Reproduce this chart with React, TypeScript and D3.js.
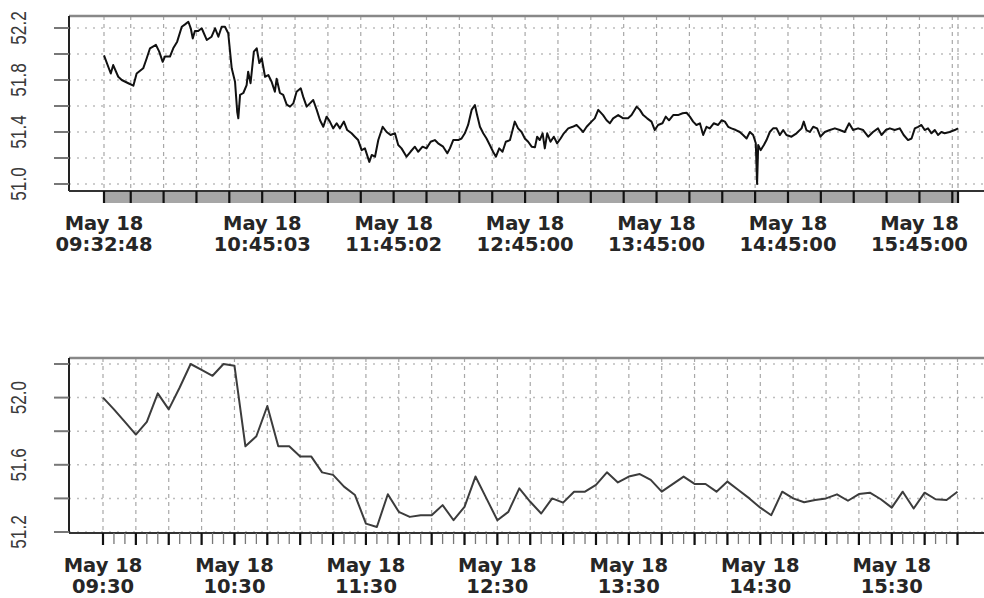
import React from 'react';
import * as d3 from 'd3';

// tick-level trades: minutes after 09:30 and price
const tradeMinutes = [
  2.8, 5.9, 7.0, 9.3, 10.9, 13.9, 16.2, 17.7, 20.7, 22.3, 23.8, 26.5, 28.0, 29.6, 30.6, 32.9, 34.4, 36.2, 38.3, 39.8,
  41.3, 42.4, 43.3, 44.3, 45.8, 47.4, 49.7, 51.9, 53.5, 55.0, 56.5, 58.0, 59.5, 61.1, 62.6, 63.6, 64.1, 64.9, 66.4, 67.9,
  68.6, 69.7, 71.2, 72.5, 73.7, 74.8, 76.3, 77.8, 79.3, 80.8, 81.6, 83.1, 84.6, 86.2, 87.7, 89.2, 90.7, 92.6, 93.7, 95.3,
  96.8, 98.3, 99.9, 101.4, 102.9, 104.4, 105.9, 107.4, 109.0, 110.5, 112.3, 113.8, 115.8, 117.3, 118.8, 120.4, 121.9, 123.9, 125.0, 126.5,
  128.0, 130.0, 131.8, 133.6, 135.6, 137.1, 138.6, 140.9, 142.7, 144.7, 146.2, 148.2, 150.0, 151.9, 153.8, 155.3, 157.6, 159.5, 160.7, 162.2,
  164.5, 166.0, 167.5, 169.0, 170.6, 172.1, 173.1, 174.4, 175.9, 177.4, 178.9, 180.4, 181.7, 183.2, 184.7, 186.2, 188.1, 189.3, 190.3, 191.8,
  193.4, 194.9, 196.4, 198.0, 199.5, 200.5, 201.7, 203.0, 204.0, 205.1, 206.6, 208.1, 209.6, 211.2, 212.7, 214.7, 216.7, 218.5, 220.0, 221.5,
  223.1, 225.3, 226.8, 228.4, 230.6, 232.2, 233.7, 235.2, 237.5, 239.8, 242.0, 243.6, 245.9, 247.4, 248.9, 250.7, 252.7, 254.2, 255.7, 257.7,
  259.2, 260.7, 262.6, 264.8, 266.9, 268.7, 270.2, 271.7, 273.2, 274.8, 276.3, 277.8, 279.3, 281.1, 283.1, 284.7, 286.2, 287.7, 289.2, 291.2,
  293.0, 294.5, 296.1, 297.6, 299.1, 300.3, 300.9, 301.4, 302.5, 304.0, 305.2, 306.7, 308.2, 309.8, 311.3, 312.8, 314.3, 316.6, 318.9, 321.2,
  322.2, 323.4, 325.0, 326.5, 328.3, 329.8, 331.8, 334.1, 336.4, 338.6, 340.9, 342.9, 344.7, 347.0, 349.3, 351.6, 353.8, 356.1, 357.7, 359.6,
  361.5, 363.7, 366.0, 367.8, 369.8, 371.4, 372.9, 374.4, 375.9, 377.4, 378.9, 380.5, 382.0, 383.5, 385.0, 386.5, 388.8, 391.1, 392.6,
];
const tradePrices = [
  51.99, 51.85, 51.915, 51.825, 51.8, 51.775, 51.756, 51.85, 51.89, 51.967, 52.044, 52.07, 52.018, 51.94, 51.98, 51.98, 52.044, 52.095, 52.21, 52.228,
  52.248, 52.198, 52.12, 52.177, 52.177, 52.198, 52.108, 52.133, 52.198, 52.133, 52.21, 52.21, 52.16, 51.89, 51.787, 51.556, 51.505, 51.685, 51.7, 51.76,
  51.864, 51.775, 52.018, 52.044, 51.93, 51.967, 51.825, 51.838, 51.787, 51.71, 51.81, 51.7, 51.685, 51.61, 51.595, 51.62, 51.71, 51.736, 51.672, 51.595,
  51.62, 51.646, 51.57, 51.49, 51.44, 51.518, 51.48, 51.428, 51.467, 51.428, 51.48, 51.415, 51.39, 51.364, 51.338, 51.26, 51.274, 51.17, 51.223, 51.21,
  51.338, 51.44, 51.4, 51.377, 51.39, 51.3, 51.274, 51.21, 51.248, 51.287, 51.248, 51.287, 51.274, 51.325, 51.338, 51.313, 51.287, 51.236, 51.274, 51.338,
  51.338, 51.35, 51.39, 51.454, 51.57, 51.608, 51.53, 51.44, 51.39, 51.35, 51.3, 51.248, 51.21, 51.274, 51.248, 51.325, 51.338, 51.415, 51.48, 51.428,
  51.4, 51.35, 51.325, 51.287, 51.282, 51.364, 51.338, 51.39, 51.274, 51.39, 51.325, 51.364, 51.313, 51.35, 51.39, 51.428, 51.44, 51.454, 51.428, 51.4,
  51.44, 51.48, 51.505, 51.57, 51.53, 51.49, 51.467, 51.505, 51.53, 51.505, 51.505, 51.53, 51.595, 51.57, 51.53, 51.505, 51.48, 51.415, 51.454, 51.467,
  51.518, 51.49, 51.53, 51.53, 51.544, 51.548, 51.518, 51.48, 51.454, 51.467, 51.377, 51.44, 51.428, 51.467, 51.454, 51.49, 51.48, 51.44, 51.428, 51.415,
  51.4, 51.377, 51.35, 51.4, 51.377, 51.313, 51.0, 51.3, 51.26, 51.3, 51.338, 51.4, 51.428, 51.428, 51.377, 51.415, 51.377, 51.364, 51.39, 51.428,
  51.48, 51.415, 51.4, 51.44, 51.428, 51.364, 51.4, 51.415, 51.428, 51.415, 51.4, 51.467, 51.415, 51.428, 51.415, 51.364, 51.4, 51.428, 51.377, 51.415,
  51.428, 51.415, 51.428, 51.377, 51.338, 51.35, 51.428, 51.44, 51.454, 51.415, 51.428, 51.39, 51.415, 51.377, 51.4, 51.39, 51.4, 51.415, 51.428,
];

// 5-minute closes from 09:30 to 16:00
const barPrices = [
  52.0, 51.93, 51.855, 51.78, 51.855, 52.025, 51.93, 52.06, 52.2, 52.165, 52.13, 52.2, 52.19,
  51.71, 51.77, 51.95, 51.71, 51.71, 51.65, 51.65, 51.555,
  51.54, 51.47, 51.42, 51.25, 51.23, 51.425, 51.32, 51.29, 51.3, 51.3,
  51.36, 51.27, 51.35, 51.53, 51.4, 51.27, 51.32, 51.46, 51.38, 51.31,
  51.4, 51.375, 51.44, 51.44, 51.48, 51.555, 51.495, 51.53, 51.545, 51.51,
  51.44, 51.485, 51.53, 51.486, 51.486, 51.44, 51.5, 51.45, 51.4, 51.345,
  51.3, 51.44, 51.4, 51.377, 51.39, 51.4, 51.424, 51.386, 51.426, 51.434,
  51.395, 51.345, 51.44, 51.34, 51.434, 51.395, 51.39, 51.44,
];

const dayLabel = 'May 18';
const topTickLabels = ['09:32:48', '10:45:03', '11:45:02', '12:45:00', '13:45:00', '14:45:00', '15:45:00'];
const bottomTickLabels = ['09:30', '10:30', '11:30', '12:30', '13:30', '14:30', '15:30'];
const topYTicks = [51.0, 51.2, 51.4, 51.6, 51.8, 52.0, 52.2];
const topYLabels = [51.0, 51.4, 51.8, 52.2];
const bottomYTicks = [51.2, 51.4, 51.6, 51.8, 52.0, 52.2];
const bottomYLabels = [51.2, 51.6, 52.0];

const open = new Date(2012, 4, 18, 9, 30, 0);
const at = (m: number) => new Date(open.getTime() + m * 60000);
const clock = (s: string) => {
  const [h, m, sec] = s.split(':').map(Number);
  return new Date(2012, 4, 18, h, m, sec || 0);
};

const W = 984;
const H = 598;
const left = 69;
const right = 990;
const fmt = d3.format('.1f');

const gridCol = '#a8a8a8';
const labelFont = 'DejaVu Sans, Verdana, sans-serif';

const App: React.FC = () => {
  const trades = tradeMinutes.map((m, i) => ({ t: at(m), v: tradePrices[i] }));
  const bars = barPrices.map((v, i) => ({ t: at(i * 5), v }));

  // ---- top panel (tick data)
  const top = { y0: 16, y1: 191 };
  const x1 = d3.scaleTime().domain([trades[0].t, trades[trades.length - 1].t]).range([104, 958]);
  const y1 = d3.scaleLinear().domain([51.0, 52.2]).range([184, 28]);
  const first = trades[0].t;
  const last = trades[trades.length - 1].t;
  const topTicks = [first, ...d3.timeMinute.every(15)!.range(first, last), last];
  const line1 = d3.line<{ t: Date; v: number }>().x(d => x1(d.t)).y(d => y1(d.v));

  // ---- bottom panel (5 min bars)
  const bot = { y0: 358, y1: 533 };
  const x2 = d3.scaleTime().domain([at(0), at(390)]).range([103, 957.5]);
  const y2 = d3.scaleLinear().domain([51.2, 52.2]).range([532, 364]);
  const majorTicks = d3.timeMinute.every(15)!.range(at(0), at(390.5));
  const minorTicks = d3.timeMinute.every(5)!.range(at(0), at(390.5));
  const line2 = d3.line<{ t: Date; v: number }>().x(d => x2(d.t)).y(d => y2(d.v));

  const yLabel = (v: number, y: number) => (
    <text
      key={'yl' + v}
      transform={`translate(26,${y}) rotate(-90) scale(0.78,1)`}
      textAnchor="middle"
      fontFamily="Liberation Sans, Arial, sans-serif"
      fontSize={22}
      fill="#3a3a3a"
    >
      {fmt(v)}
    </text>
  );

  const xLabel = (key: string, x: number, yA: number, yB: number, s: string) => (
    <g key={key} fontFamily={labelFont} fontSize={19.5} fontWeight="bold" fill="#262626" textAnchor="middle">
      <text x={x} y={yA}>{dayLabel}</text>
      <text x={x} y={yB}>{s}</text>
    </g>
  );

  return (
    <svg width={W} height={H} style={{ position: 'absolute', left: 0, top: 0, background: '#fff' }}>
      {/* top panel grid */}
      {topYTicks.map(v => (
        <line key={'thg' + v} x1={left} x2={right} y1={y1(v)} y2={y1(v)} stroke="#bdbdbd" strokeDasharray="2,6" strokeWidth={1.5} />
      ))}
      {topTicks.map((t, i) => (
        <line key={'tvg' + i} x1={x1(t)} x2={x1(t)} y1={top.y0} y2={top.y1} stroke={gridCol} strokeDasharray="4,4" strokeWidth={1.2} />
      ))}
      <path d={line1(trades) || ''} fill="none" stroke="#111" strokeWidth={2} strokeLinejoin="round" />
      <line x1={left} x2={right} y1={top.y0} y2={top.y0} stroke="#888" strokeWidth={2.5} />
      <line x1={left} x2={left} y1={top.y0} y2={top.y1} stroke="#222" strokeWidth={2} />
      <line x1={left} x2={right} y1={top.y1} y2={top.y1} stroke="#333" strokeWidth={2} />
      {topYTicks.map(v => (
        <line key={'tyt' + v} x1={54} x2={left} y1={y1(v)} y2={y1(v)} stroke="#777" strokeWidth={2} />
      ))}
      {topYLabels.map(v => yLabel(v, y1(v)))}
      <rect x={x1(first)} y={top.y1 + 1} width={x1(last) - x1(first)} height={11} fill="#a6a6a6" />
      {topTicks.map((t, i) => (
        <line key={'tbt' + i} x1={x1(t)} x2={x1(t)} y1={top.y1} y2={top.y1 + 12} stroke="#111" strokeWidth={2.2} />
      ))}
      {topTickLabels.map(s => xLabel('txl' + s, x1(clock(s)), 230, 251, s))}

      {/* bottom panel grid */}
      {bottomYTicks.map(v => (
        <line key={'bhg' + v} x1={left} x2={right} y1={y2(v)} y2={y2(v)} stroke="#bdbdbd" strokeDasharray="2,6" strokeWidth={1.5} />
      ))}
      {majorTicks.map((t, i) => (
        <line key={'bvg' + i} x1={x2(t)} x2={x2(t)} y1={bot.y0} y2={bot.y1} stroke={gridCol} strokeDasharray="4,4" strokeWidth={1.2} />
      ))}
      <path d={line2(bars) || ''} fill="none" stroke="#3c3c3c" strokeWidth={2} strokeLinejoin="round" />
      <line x1={left} x2={right} y1={bot.y0} y2={bot.y0} stroke="#888" strokeWidth={2.5} />
      <line x1={left} x2={left} y1={bot.y0} y2={bot.y1} stroke="#222" strokeWidth={2} />
      <line x1={left} x2={right} y1={bot.y1} y2={bot.y1} stroke="#333" strokeWidth={2} />
      {bottomYTicks.map(v => (
        <line key={'byt' + v} x1={54} x2={left} y1={y2(v)} y2={y2(v)} stroke="#777" strokeWidth={2} />
      ))}
      {bottomYLabels.map(v => yLabel(v, y2(v)))}
      {minorTicks.map((t, i) => (
        <line key={'bmt' + i} x1={x2(t)} x2={x2(t)} y1={bot.y1} y2={bot.y1 + 11} stroke="#777" strokeWidth={1.3} />
      ))}
      {majorTicks.map((t, i) => (
        <line key={'bMt' + i} x1={x2(t)} x2={x2(t)} y1={bot.y1} y2={bot.y1 + 12} stroke="#111" strokeWidth={2.2} />
      ))}
      {bottomTickLabels.map(s => xLabel('bxl' + s, x2(clock(s)), 572, 593, s))}
    </svg>
  );
};

export default App;
